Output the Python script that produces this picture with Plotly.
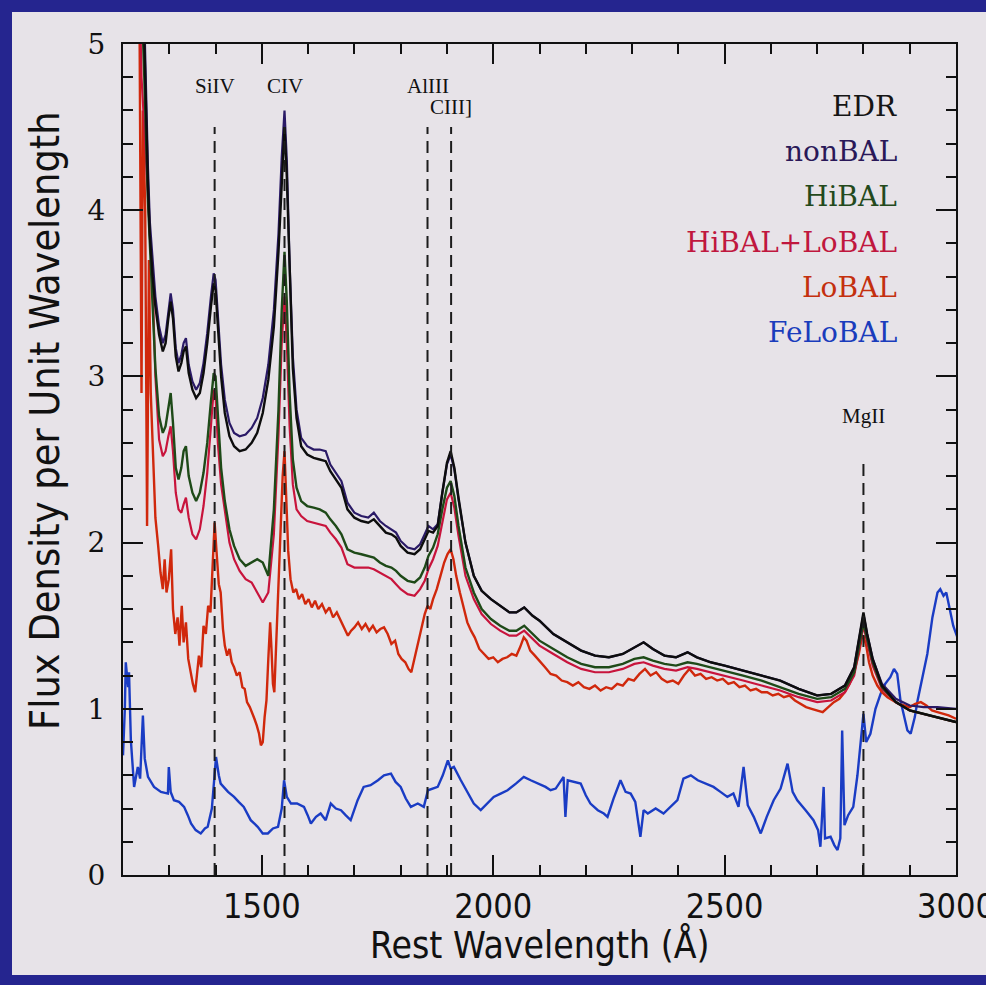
import plotly.graph_objects as go

# ---- composite spectra (rest wavelength in A, flux density) ----
wave_comp = [
    1205, 1216, 1228, 1240, 1246, 1250, 1254, 1258, 1264, 1270,
    1278, 1286, 1292, 1298, 1303, 1308, 1314, 1320, 1326, 1331,
    1336, 1342, 1350, 1358, 1366, 1374, 1382, 1390, 1396, 1400,
    1405, 1412, 1420, 1430, 1440, 1452, 1465, 1478, 1490, 1502,
    1514, 1526, 1536, 1543, 1549, 1554, 1560, 1567, 1575, 1585,
    1598, 1612, 1625, 1638, 1648, 1660, 1672, 1685, 1700, 1715,
    1730, 1742, 1755, 1768, 1780, 1790, 1800, 1815, 1830, 1842,
    1852, 1860, 1870, 1880, 1890, 1900, 1908, 1916, 1925, 1940,
    1958, 1975, 1995, 2015, 2035, 2050, 2067, 2085, 2100, 2130,
    2160, 2190, 2220, 2250, 2280, 2305, 2325, 2345, 2370, 2395,
    2420, 2440, 2470, 2500, 2540, 2580, 2620, 2660, 2700, 2730,
    2760, 2780, 2792, 2800, 2808, 2820, 2840, 2870, 2900, 2930,
    2960, 3000,
]

edr_flux = [
    6.0, 9.0, 7.0, 5.6, 5.0, 4.5, 4.15, 3.85, 3.6, 3.42,
    3.25, 3.15, 3.2, 3.35, 3.45, 3.35, 3.12, 3.03, 3.08, 3.15,
    3.18, 3.02, 2.92, 2.87, 2.9, 3.02, 3.2, 3.42, 3.56, 3.52,
    3.3, 3.0, 2.78, 2.64, 2.58, 2.55, 2.56, 2.6, 2.66, 2.78,
    2.98, 3.3, 3.75, 4.2, 4.5, 4.2, 3.6, 3.05, 2.75, 2.58,
    2.53, 2.51, 2.5, 2.49, 2.43, 2.38, 2.33, 2.2, 2.15, 2.13,
    2.12, 2.14, 2.1, 2.06, 2.05, 2.03, 1.98, 1.94, 1.93, 1.96,
    2.02, 2.07, 2.06, 2.1, 2.3, 2.48, 2.55, 2.45, 2.27, 2.0,
    1.8, 1.71, 1.66, 1.62, 1.58, 1.58, 1.61, 1.56, 1.53, 1.45,
    1.4, 1.35, 1.32, 1.31, 1.33, 1.37, 1.4, 1.36, 1.32, 1.31,
    1.34, 1.31, 1.28, 1.26, 1.23, 1.2, 1.17, 1.12, 1.08, 1.09,
    1.14, 1.25, 1.45, 1.58, 1.45, 1.3, 1.14, 1.04, 0.99, 0.97,
    0.95, 0.92,
]

nonbal_flux = [
    6.2, 9.3, 7.2, 5.8, 5.15, 4.62, 4.25, 3.93, 3.67, 3.48,
    3.3, 3.2, 3.25, 3.4, 3.5, 3.4, 3.17, 3.08, 3.13, 3.2,
    3.23, 3.07, 2.97, 2.92, 2.96, 3.08, 3.26, 3.48, 3.62, 3.58,
    3.37, 3.07, 2.86, 2.72, 2.66, 2.64, 2.65, 2.69, 2.75, 2.87,
    3.07, 3.4, 3.86, 4.32, 4.6, 4.3, 3.68, 3.12, 2.8, 2.63,
    2.58, 2.56, 2.56, 2.55, 2.47, 2.42, 2.37, 2.24, 2.18, 2.16,
    2.15, 2.18, 2.13, 2.1, 2.08, 2.06, 2.01, 1.97, 1.96, 1.99,
    2.05, 2.1, 2.08, 2.11, 2.3, 2.47, 2.53, 2.44, 2.26, 2.0,
    1.8, 1.71, 1.66, 1.62, 1.58, 1.58, 1.61, 1.56, 1.53, 1.45,
    1.4, 1.35, 1.32, 1.31, 1.33, 1.37, 1.4, 1.36, 1.32, 1.31,
    1.34, 1.31, 1.28, 1.26, 1.23, 1.2, 1.17, 1.12, 1.08, 1.09,
    1.14, 1.25, 1.45, 1.57, 1.45, 1.3, 1.15, 1.06, 1.02, 1.01,
    1.01, 1.0,
]

hibal_flux = [
    5.8, 8.5, 6.8, 5.3, 4.8, 4.4, 4.05, 3.8, 3.45, 3.05,
    2.76, 2.66, 2.7, 2.82, 2.9, 2.72, 2.45, 2.38, 2.45, 2.55,
    2.58, 2.4, 2.3, 2.25, 2.3, 2.42, 2.6, 2.85, 3.02, 3.0,
    2.75, 2.45, 2.25, 2.08, 1.98, 1.9, 1.86, 1.88, 1.9, 1.88,
    1.8, 2.2, 2.8, 3.4, 3.75, 3.45, 2.9, 2.5, 2.33, 2.25,
    2.22, 2.21, 2.2, 2.18, 2.14, 2.1, 2.05, 1.96, 1.94, 1.93,
    1.92, 1.91, 1.88, 1.86, 1.85, 1.83, 1.8, 1.77, 1.76, 1.79,
    1.85, 1.92, 1.97, 2.05, 2.2, 2.33, 2.37, 2.28, 2.1, 1.85,
    1.7, 1.6, 1.54, 1.5, 1.47, 1.47, 1.5, 1.45, 1.41, 1.36,
    1.31, 1.27, 1.25, 1.25, 1.27, 1.3, 1.31, 1.29, 1.27, 1.26,
    1.28, 1.27, 1.25, 1.23, 1.2, 1.17, 1.13, 1.09, 1.06, 1.07,
    1.12, 1.22, 1.4, 1.52, 1.42, 1.28, 1.13, 1.04, 0.99, 0.97,
    0.95, 0.92,
]

hilobal_flux = [
    5.5, 8.2, 6.3, 4.8, 4.5, 4.3, 4.1, 3.85, 3.55, 3.0,
    2.62, 2.52, 2.55, 2.64, 2.7, 2.55, 2.3, 2.2, 2.18, 2.23,
    2.27, 2.15, 2.05, 2.02, 2.08, 2.22, 2.42, 2.7, 2.92, 2.88,
    2.6, 2.35, 2.18, 2.0, 1.9, 1.83, 1.78, 1.76, 1.7, 1.64,
    1.7, 2.05, 2.65, 3.2, 3.48, 3.2, 2.7, 2.35, 2.2, 2.16,
    2.13, 2.12, 2.11, 2.1, 2.06, 2.02, 1.97, 1.87, 1.85, 1.85,
    1.85, 1.84, 1.82, 1.8, 1.78, 1.75, 1.72, 1.69, 1.68, 1.72,
    1.77, 1.84, 1.9, 1.98, 2.13, 2.26, 2.3, 2.21, 2.04, 1.8,
    1.66, 1.57, 1.51, 1.47, 1.44, 1.44, 1.47, 1.42, 1.38, 1.33,
    1.28, 1.24, 1.22, 1.22, 1.24, 1.27, 1.28, 1.26, 1.24, 1.23,
    1.25, 1.24, 1.22, 1.2, 1.17, 1.14, 1.11, 1.07, 1.04, 1.05,
    1.1, 1.2, 1.38, 1.5, 1.4, 1.26, 1.12, 1.04, 0.99, 0.97,
    0.95, 0.92,
]

lobal_wave = [
    1200, 1206, 1212, 1216, 1224, 1230, 1236, 1240, 1243, 1248,
    1252, 1256, 1260, 1265, 1270, 1276, 1281, 1286, 1290, 1294,
    1299, 1304, 1308, 1313, 1318, 1322, 1327, 1331, 1336, 1341,
    1346, 1351, 1356, 1360, 1364, 1369, 1374, 1379, 1384, 1389,
    1394, 1398, 1402, 1407, 1411, 1416, 1420, 1425, 1430, 1435,
    1440, 1446, 1452, 1458, 1463, 1468, 1474, 1479, 1484, 1489,
    1494, 1498, 1502, 1506, 1510, 1514, 1518, 1521, 1524, 1527,
    1531, 1536, 1541, 1545, 1549, 1553, 1557, 1562, 1568, 1574,
    1580, 1587, 1594, 1601, 1608, 1615, 1622, 1630, 1638, 1646,
    1654, 1662, 1670, 1678, 1686, 1693, 1700, 1708, 1716, 1724,
    1732, 1740, 1748, 1756, 1764, 1772, 1780, 1788, 1795, 1802,
    1810, 1817, 1823, 1828, 1834, 1840, 1846, 1852, 1858, 1864,
    1870, 1878, 1886, 1894, 1901, 1908, 1914, 1920, 1928, 1936,
    1944, 1952, 1960, 1970, 1980, 1990, 2000, 2010, 2020, 2030,
    2040, 2050, 2058, 2066, 2072, 2080, 2090, 2100, 2112, 2124,
    2136, 2148, 2160, 2172, 2184, 2196, 2208, 2220, 2232, 2244,
    2256, 2268, 2280, 2292, 2304, 2316, 2328, 2340, 2352, 2364,
    2376, 2388, 2400, 2412, 2424, 2436, 2448, 2460, 2472, 2484,
    2496, 2508, 2520, 2532, 2544, 2556, 2568, 2580, 2592, 2604,
    2616, 2628, 2640, 2652, 2664, 2676, 2688, 2700, 2712, 2724,
    2736, 2748, 2760, 2770, 2780, 2790, 2796, 2800, 2806, 2812,
    2820, 2830, 2840, 2852, 2864, 2876, 2888, 2900, 2912, 2924,
    2936, 2948, 2960, 2972, 2984, 3000,
]

lobal_flux = [
    5.5, 6.5, 7.0, 8.0, 6.5, 5.6, 5.0, 2.9, 4.6, 4.0,
    2.1, 3.7, 2.9, 2.5, 2.15, 1.98, 1.82, 1.72, 1.9, 1.7,
    1.78, 1.96, 1.6, 1.45, 1.55, 1.38, 1.62, 1.4, 1.52, 1.3,
    1.22, 1.15, 1.1, 1.22, 1.32, 1.25, 1.5, 1.45, 1.62, 1.58,
    1.85, 2.12, 1.95, 1.75, 1.7, 1.48, 1.38, 1.32, 1.36, 1.28,
    1.25, 1.2, 1.22, 1.13, 1.12, 1.04, 1.01, 0.98, 0.94, 0.9,
    0.85, 0.78, 0.8, 0.95, 1.05, 1.3, 1.52, 1.35, 1.15, 1.1,
    1.4, 1.75, 2.15, 2.4, 2.55, 2.3, 1.95, 1.78, 1.7, 1.72,
    1.66, 1.69, 1.63, 1.66, 1.61, 1.65, 1.6, 1.63, 1.58, 1.61,
    1.55, 1.58, 1.53, 1.48, 1.44, 1.47, 1.49, 1.52, 1.48, 1.51,
    1.47, 1.5, 1.46, 1.48, 1.49, 1.45, 1.39, 1.41, 1.33, 1.3,
    1.28, 1.24, 1.22, 1.28, 1.35, 1.42, 1.5, 1.57, 1.62, 1.6,
    1.66, 1.72, 1.8, 1.88, 1.93, 1.96, 1.9, 1.8, 1.7, 1.6,
    1.52, 1.47, 1.43, 1.36, 1.33, 1.3, 1.31, 1.28, 1.3, 1.31,
    1.33, 1.32, 1.37, 1.43, 1.41, 1.35, 1.32, 1.29, 1.25, 1.21,
    1.2, 1.17, 1.16, 1.14, 1.16, 1.13, 1.12, 1.14, 1.11, 1.13,
    1.12, 1.15, 1.14, 1.18, 1.17, 1.21, 1.24, 1.2, 1.22, 1.18,
    1.16, 1.17, 1.15, 1.2, 1.24, 1.2, 1.21, 1.18, 1.19, 1.17,
    1.18, 1.15, 1.16, 1.13, 1.14, 1.11, 1.12, 1.1, 1.1, 1.08,
    1.09, 1.07, 1.08, 1.05, 1.03, 1.01, 1.0, 0.99, 0.98, 1.01,
    1.04, 1.06, 1.1, 1.15, 1.22, 1.33, 1.42, 1.44, 1.38, 1.28,
    1.2, 1.14, 1.1, 1.07, 1.05, 1.03, 1.02, 1.01, 1.03, 1.04,
    1.02, 0.99, 0.98, 0.97, 0.96, 0.94,
]

felobal_wave = [
    1200, 1204, 1206, 1211, 1213, 1217, 1224, 1232, 1237, 1243,
    1247, 1254, 1267, 1282, 1297, 1299, 1303, 1310, 1321, 1332,
    1340, 1347, 1357, 1368, 1377, 1383, 1392, 1401, 1407, 1411,
    1427, 1440, 1450, 1461, 1476, 1491, 1502, 1513, 1524, 1535,
    1543, 1548, 1554, 1563, 1576, 1591, 1599, 1606, 1617, 1627,
    1638, 1649, 1660, 1671, 1681, 1692, 1707, 1720, 1735, 1751,
    1764, 1779, 1789, 1800, 1811, 1822, 1837, 1850, 1859, 1869,
    1880, 1891, 1902, 1908, 1915, 1930, 1945, 1958, 1973, 1988,
    2001, 2016, 2031, 2049, 2066, 2081, 2096, 2113, 2124, 2135,
    2152, 2156, 2161, 2178, 2189, 2200, 2210, 2226, 2239, 2247,
    2260, 2275, 2286, 2297, 2307, 2318, 2325, 2334, 2351, 2368,
    2383, 2398, 2411, 2427, 2442, 2459, 2476, 2491, 2506, 2519,
    2530, 2541, 2550, 2563, 2578, 2591, 2606, 2621, 2636, 2647,
    2657, 2675, 2692, 2702, 2707, 2714, 2717, 2729, 2737, 2744,
    2750, 2754, 2759, 2767, 2778, 2787, 2793, 2800, 2806, 2815,
    2826, 2837, 2847, 2858, 2866, 2873, 2880, 2887, 2895, 2902,
    2911, 2917, 2928, 2938, 2949, 2960, 2966, 2973, 2979, 2988,
    2994, 3003,
]

felobal_flux = [
    0.72, 1.0, 1.28, 1.13, 1.22, 0.81, 0.53, 0.65, 0.58, 0.96,
    0.7, 0.59, 0.53, 0.5, 0.49, 0.65, 0.5, 0.45, 0.44, 0.41,
    0.36, 0.31, 0.27, 0.25, 0.28, 0.29, 0.4, 0.71, 0.6, 0.55,
    0.5, 0.47, 0.44, 0.41, 0.33, 0.29, 0.25, 0.25, 0.28, 0.29,
    0.4, 0.57, 0.47, 0.43, 0.43, 0.41, 0.36, 0.31, 0.35, 0.37,
    0.33, 0.43, 0.4, 0.39, 0.36, 0.33, 0.45, 0.53, 0.54, 0.57,
    0.6, 0.61, 0.56, 0.53, 0.46, 0.41, 0.43, 0.41, 0.51, 0.52,
    0.53, 0.6, 0.69, 0.64, 0.65, 0.57, 0.49, 0.43, 0.39, 0.43,
    0.47, 0.49, 0.51, 0.55, 0.59, 0.57, 0.55, 0.53, 0.51, 0.52,
    0.59, 0.35, 0.57, 0.56, 0.55, 0.48, 0.43, 0.39, 0.37, 0.35,
    0.46, 0.57, 0.5, 0.49, 0.44, 0.23, 0.39, 0.37, 0.4, 0.37,
    0.41, 0.45, 0.58, 0.6, 0.57, 0.55, 0.53, 0.5, 0.47, 0.49,
    0.41, 0.65, 0.42, 0.35, 0.25, 0.35, 0.45, 0.52, 0.67, 0.5,
    0.45, 0.39, 0.33, 0.27, 0.17, 0.53, 0.22, 0.23, 0.18, 0.15,
    0.22, 0.87, 0.3, 0.36, 0.41, 0.6, 0.77, 0.97, 0.8, 0.85,
    1.0, 1.09, 1.15, 1.19, 1.24, 1.21, 1.05, 0.97, 0.87, 0.85,
    0.95, 1.05, 1.2, 1.33, 1.55, 1.7, 1.72, 1.68, 1.7, 1.59,
    1.5, 1.43,
]

# emission lines marked with dashed verticals
line_names = ["SiIV", "CIV", "AlIII", "CIII]", "MgII"]
line_waves = [1398, 1549, 1858, 1909, 2800]
line_tops = [4.5, 4.5, 4.5, 4.5, 2.5]
line_label_y = [4.75, 4.75, 4.75, 4.62, 2.76]

legend_names = ["EDR", "nonBAL", "HiBAL", "HiBAL+LoBAL", "LoBAL", "FeLoBAL"]
legend_colors = ["#151515", "#2a1858", "#244a1c", "#c0173e", "#c4300e", "#1a3cbc"]

W, H = 986, 985
L, R, T, B = 123, 30, 44, 110
NAVY = "#25258f"
PAGE = "#e7e3e8"


def paper_x(px):
    return (px - L) / (W - L - R)


def paper_y(py):
    return (H - B - py) / (H - T - B)


axis_font = "DejaVu Sans Condensed, Liberation Sans Narrow, DejaVu Sans, sans-serif"

fig = go.Figure()
series = [
    (felobal_wave, felobal_flux, "#1a3cc4", 2.4),
    (lobal_wave, lobal_flux, "#d0280c", 2.4),
    (wave_comp, hilobal_flux, "#c8143c", 2.2),
    (wave_comp, hibal_flux, "#1e4a18", 2.4),
    (wave_comp, nonbal_flux, "#2a1a66", 2.2),
    (wave_comp, edr_flux, "#0d0d0d", 2.4),
]
for xs, ys, col, lw in series:
    fig.add_trace(go.Scatter(x=xs, y=ys, mode="lines",
                             line=dict(color=col, width=lw), hoverinfo="skip"))

# navy slide frame on top, left and bottom (page runs off the right edge)
shapes = [dict(type="rect", xref="paper", yref="paper", layer="below",
               x0=paper_x(960), x1=paper_x(1000), y0=paper_y(975), y1=paper_y(12),
               fillcolor=PAGE, line=dict(width=0))]
for x0, x1, y0, y1 in [(-5, 1000, -5, 12), (-5, 12, -5, 1000), (-5, 1000, 975, 1000)]:
    shapes.append(dict(type="rect", xref="paper", yref="paper", layer="below",
                       x0=paper_x(x0), x1=paper_x(x1), y0=paper_y(y1), y1=paper_y(y0),
                       fillcolor=NAVY, line=dict(width=0)))
for w, top in zip(line_waves, line_tops):
    shapes.append(dict(type="line", xref="x", yref="y", x0=w, x1=w, y0=0, y1=top,
                       line=dict(color="#1c1c1c", width=2, dash="12px,7px")))

annotations = []
for name, w, ly in zip(line_names, line_waves, line_label_y):
    annotations.append(dict(x=w, y=ly, xref="x", yref="y", text=name, showarrow=False,
                            xanchor="center", yanchor="middle",
                            font=dict(family="Liberation Serif, serif", size=21, color="#111")))
for i, (name, col) in enumerate(zip(legend_names, legend_colors)):
    annotations.append(dict(x=paper_x(899), y=paper_y(107 + 45 * i), xref="paper", yref="paper",
                            xanchor="right", yanchor="middle", text=name, showarrow=False,
                            font=dict(family="DejaVu Serif, serif", size=28, color=col)))
annotations.append(dict(x=0.5, y=paper_y(945), xref="paper", yref="paper",
                        xanchor="center", yanchor="middle",
                        text="Rest Wavelength (Å)", showarrow=False,
                        font=dict(family=axis_font, size=37, color="#111")))
annotations.append(dict(x=paper_x(45), y=paper_y(421), xref="paper", yref="paper",
                        xanchor="center", yanchor="middle",
                        text="Flux Density per Unit Wavelength", textangle=-90, showarrow=False,
                        font=dict(family=axis_font, size=41, color="#111")))

fig.update_layout(
    width=W, height=H,
    margin=dict(l=L, r=R, t=T, b=B, pad=0, autoexpand=False),
    paper_bgcolor=PAGE,
    plot_bgcolor="rgba(0,0,0,0)",
    showlegend=False,
    shapes=shapes,
    annotations=annotations,
)
fig.update_xaxes(range=[1200, 3000], dtick=500, showgrid=False, zeroline=False,
                 automargin=False,
                 showline=True, linecolor="#111", linewidth=2, mirror="ticks",
                 ticks="inside", ticklen=20, tickwidth=1.5, tickcolor="#111",
                 ticklabelstandoff=0, ticklabeloverflow="allow",
                 minor=dict(dtick=100, ticks="inside", ticklen=10, tickwidth=1.5, tickcolor="#111"),
                 tickfont=dict(family=axis_font, size=34, color="#111"))
fig.update_yaxes(range=[0, 5], dtick=1, showgrid=False, zeroline=False,
                 automargin=False,
                 showline=True, linecolor="#111", linewidth=2, mirror="ticks",
                 ticks="inside", ticklen=20, tickwidth=1.5, tickcolor="#111",
                 ticklabelstandoff=10,
                 minor=dict(dtick=0.2, ticks="inside", ticklen=10, tickwidth=1.5, tickcolor="#111"),
                 tickfont=dict(family="DejaVu Serif, serif", size=28, color="#111"))

fig.write_html(
    "out.html", config={"displayModeBar": False},
    post_script=("document.body.style.margin='0px';"
                 "document.body.style.overflow='hidden';"
                 "document.documentElement.style.overflow='hidden';"
                 "document.body.style.background='" + PAGE + "';"),
)
